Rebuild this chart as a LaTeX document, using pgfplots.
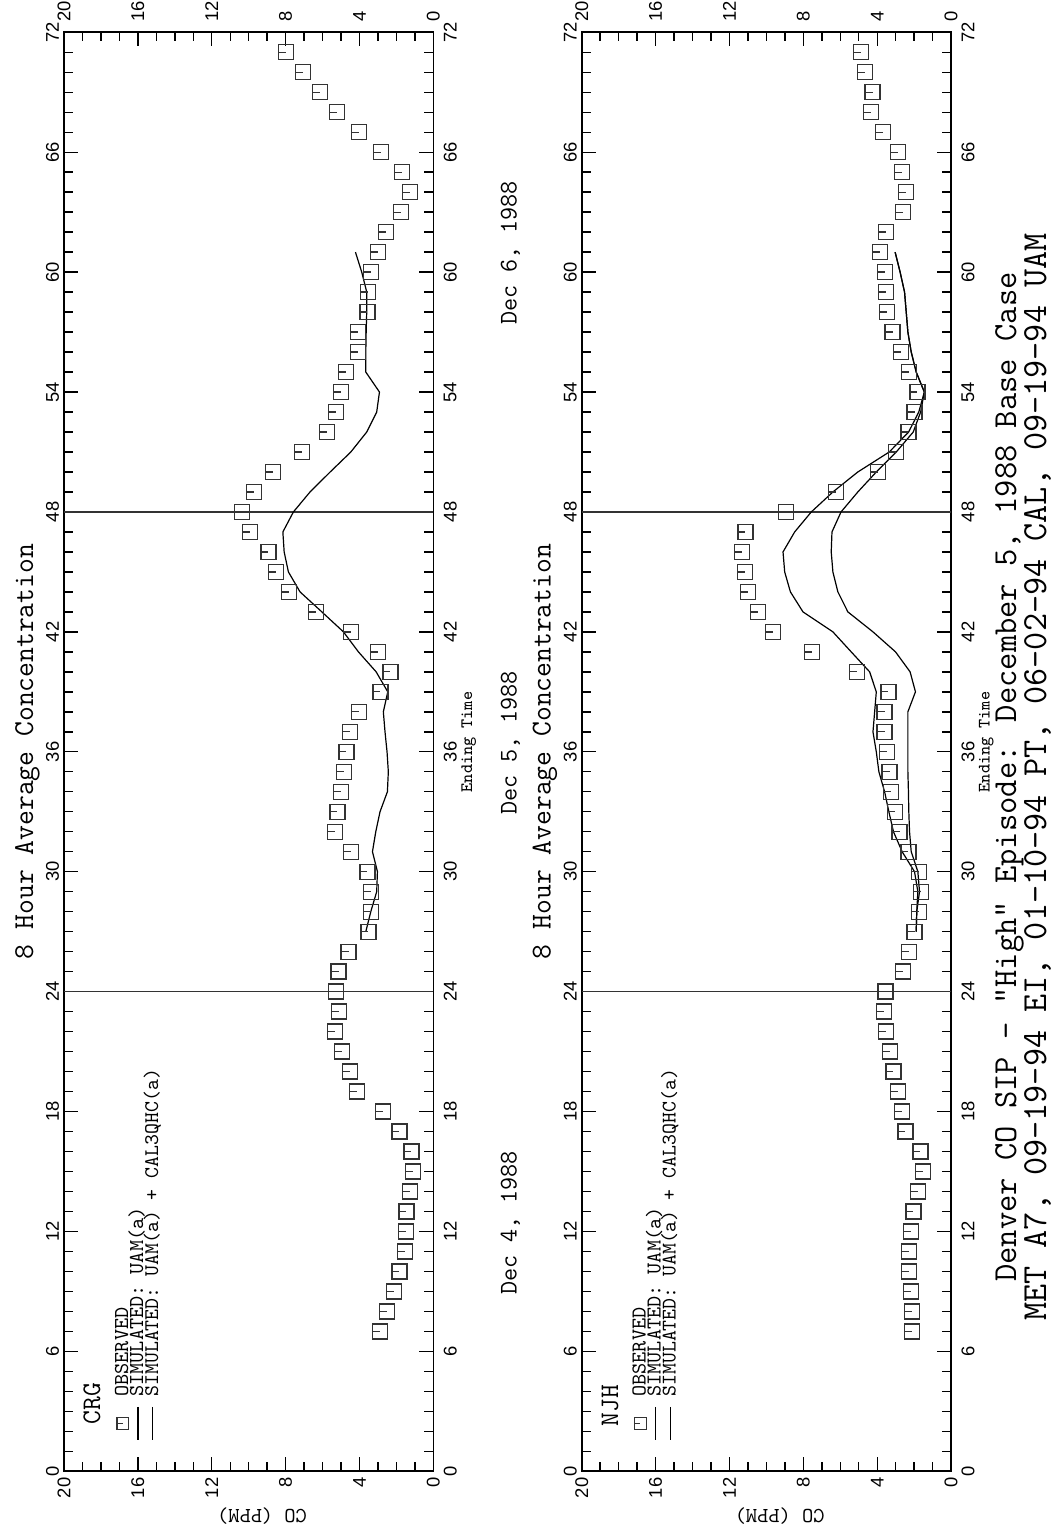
\documentclass[border=0pt]{standalone}
\usepackage{fontspec}
\newfontfamily\tickfont{Liberation Sans}
\usepackage{pgfplots}
\usepackage{pgfplotstable}
\pgfplotsset{compat=1.18}

\pgfdeclareplotmark{sqt}{%
  \pgfpathrectangle{\pgfpoint{-\pgfplotmarksize}{-\pgfplotmarksize}}{\pgfpoint{2\pgfplotmarksize}{2\pgfplotmarksize}}%
  \pgfpathmoveto{\pgfpoint{-\pgfplotmarksize}{0pt}}%
  \pgfpathlineto{\pgfpointorigin}%
  \pgfusepathqstroke}

\pgfplotstableread{
t co
7 2.89
8 2.51
9 2.13
10 1.84
11 1.53
12 1.50
13 1.46
14 1.28
15 1.10
16 1.19
17 1.84
18 2.74
19 4.15
20 4.51
21 4.94
22 5.34
23 5.11
24 5.27
25 5.13
26 4.59
27 3.52
28 3.39
29 3.36
30 3.57
31 4.47
32 5.32
33 5.20
34 5.01
35 4.83
36 4.71
37 4.53
38 4.02
39 2.87
40 2.33
41 2.99
42 4.47
43 6.37
44 7.81
45 8.53
46 8.93
47 9.92
48 10.36
49 9.72
50 8.68
51 7.13
52 5.77
53 5.27
54 5.01
55 4.73
56 4.08
57 4.08
58 3.57
59 3.54
60 3.39
61 2.99
62 2.58
63 1.75
64 1.28
65 1.71
66 2.85
67 4.02
68 5.23
69 6.13
70 7.05
71 7.99
}\obsCRG

\pgfplotstableread{
t co
27 3.66
28 3.39
29 3.07
30 3.03
31 3.30
32 3.12
33 2.89
34 2.49
35 2.44
36 2.51
37 2.62
38 2.71
39 2.47
40 3.10
41 4.06
42 4.87
43 6.04
44 7.22
45 7.85
46 8.08
47 8.15
48 7.58
49 6.68
50 5.59
51 4.47
52 3.61
53 3.07
54 2.92
55 3.66
56 3.66
57 3.64
58 3.61
59 3.61
60 3.88
61 4.22
}\simCRG

\pgfplotstableread{
t co
7 2.13
8 2.13
9 2.18
10 2.27
11 2.29
12 2.18
13 2.04
14 1.78
15 1.53
16 1.66
17 2.47
18 2.67
19 2.88
20 3.12
21 3.32
22 3.51
23 3.62
24 3.55
25 2.61
26 2.27
27 1.98
28 1.75
29 1.64
30 1.75
31 2.31
32 2.79
33 3.03
34 3.24
35 3.33
36 3.48
37 3.60
38 3.60
39 3.39
40 5.08
41 7.53
42 9.64
43 10.45
44 10.99
45 11.17
46 11.32
47 11.14
48 8.95
49 6.23
50 3.96
51 2.97
52 2.31
53 1.98
54 1.82
55 2.27
56 2.70
57 3.17
58 3.46
59 3.51
60 3.57
61 3.84
62 3.51
63 2.61
64 2.43
65 2.67
66 2.88
67 3.68
68 4.32
69 4.25
70 4.65
71 4.86
}\obsNJH

\pgfplotstableread{
t co
27 1.89
28 1.86
29 1.80
30 1.98
31 2.65
32 3.12
33 3.37
34 3.60
35 3.91
36 4.05
37 4.23
38 4.14
39 4.05
40 4.41
41 5.41
42 6.40
43 8.02
44 8.70
45 9.01
46 9.10
47 8.47
48 7.57
49 6.40
50 5.05
51 3.35
52 2.30
53 1.75
54 1.45
55 1.89
56 2.16
57 2.34
58 2.43
59 2.52
60 2.76
61 3.03
}\simNJHa

\pgfplotstableread{
t co
27 1.89
28 1.86
29 1.71
30 1.80
31 2.16
32 2.25
33 2.29
34 2.31
35 2.34
36 2.34
37 2.34
38 2.34
39 1.93
40 2.22
41 3.01
42 4.23
43 5.59
44 6.13
45 6.40
46 6.49
47 6.45
48 5.96
49 5.05
50 4.05
51 2.97
52 2.05
53 1.65
54 1.45
55 1.89
56 2.16
57 2.34
58 2.43
59 2.52
60 2.76
61 3.03
}\simNJHb

\pgfplotsset{
  panel/.style={
    scale only axis, width=184.7pt, height=719.5pt, anchor=south west,
    xmin=0, xmax=20, x dir=reverse, ymin=0, ymax=72,
    xtick={0,4,...,20}, ytick={0,6,...,72},
    minor xtick={1,2,3,5,6,7,9,10,11,13,14,15,17,18,19},
    minor ytick={1,2,3,4,5,7,8,9,10,11,13,14,15,16,17,19,20,21,22,23,25,26,27,28,29,31,32,33,34,35,37,38,39,40,41,43,44,45,46,47,49,50,51,52,53,55,56,57,58,59,61,62,63,64,65,67,68,69,70,71},
    tick align=inside, xtick pos=both, ytick pos=both,
    major tick length=7pt, minor tick length=4.5pt,
    axis line style={line width=0.8pt},
    every tick/.style={black, line width=0.7pt},
    tick label style={font=\tickfont\fontsize{9.2}{9.2}\selectfont},
    /pgf/number format/assume math mode=true,
    clip=false,
  },
  mainpanel/.style={
    panel,
    xticklabel pos=lower, yticklabel pos=left,
    xticklabel style={rotate=90, anchor=east, inner sep=3pt},
    yticklabel style={rotate=90, anchor=south, inner sep=2.3pt},
  },
  overpanel/.style={
    panel,
    xticklabel pos=upper, yticklabel pos=right,
    xticklabel style={rotate=90, anchor=west, inner sep=5.3pt},
    yticklabel style={rotate=90, anchor=north, inner sep=5pt},
    axis line style={draw=none},
    major tick length=0pt, minor tick length=0pt,
    every tick/.style={draw=none},
  },
  obs/.style={only marks, mark=sqt, mark size=3.75pt, black!80, line width=0.65pt},
  sim/.style={no marks, black, line width=0.6pt},
}

\begin{document}
\begin{tikzpicture}
\path[use as bounding box] (0pt,0pt) rectangle (527pt,764.5pt);

% ---------- panel 1: CRG ----------
\begin{axis}[mainpanel, at={(32pt,28.85pt)}]
  \addplot[black!80, line width=0.6pt] coordinates {(0,24) (20,24)};
  \addplot[black!80, line width=0.6pt] coordinates {(0,48) (20,48)};
  \addplot[obs] table[x=co, y=t] {\obsCRG};
  \addplot[sim] table[x=co, y=t] {\simCRG};
  % legend glyphs
  \addplot[only marks, mark=sqt, mark size=2.9pt, black!80, line width=0.6pt] coordinates {(16.82,2.4)};
  \addplot[sim] coordinates {(15.99,3.22) (15.99,1.57)};
  \addplot[sim] coordinates {(15.19,3.22) (15.19,1.57)};
\end{axis}
\begin{axis}[overpanel, at={(32pt,28.85pt)}]
  \addplot[draw=none] coordinates {(0,0)};
\end{axis}

% ---------- panel 2: NJH ----------
\begin{axis}[mainpanel, at={(290.85pt,28.85pt)}]
  \addplot[black!80, line width=0.6pt] coordinates {(0,24) (20,24)};
  \addplot[black!80, line width=0.6pt] coordinates {(0,48) (20,48)};
  \addplot[obs] table[x=co, y=t] {\obsNJH};
  \addplot[sim] table[x=co, y=t] {\simNJHa};
  \addplot[sim] table[x=co, y=t] {\simNJHb};
  \addplot[only marks, mark=sqt, mark size=2.9pt, black!80, line width=0.6pt] coordinates {(16.82,2.4)};
  \addplot[sim] coordinates {(15.99,3.22) (15.99,1.57)};
  \addplot[sim] coordinates {(15.19,3.22) (15.19,1.57)};
\end{axis}
\begin{axis}[overpanel, at={(290.85pt,28.85pt)}]
  \addplot[draw=none] coordinates {(0,0)};
\end{axis}

% ---------- texts ----------
\tikzset{rt/.style={rotate=90, inner sep=0pt}}
\foreach \dx in {0pt,258.85pt}{
  \begin{scope}[xshift=\dx]
    \node[rt, anchor=base, font=\ttfamily\fontsize{14.4}{14.4}\selectfont] at (16.5pt,388.75pt) {8 Hour Average Concentration};
    \node[rt, anchor=base west, font=\ttfamily\fontsize{10.6}{10.6}\selectfont] at (64pt,66pt) {OBSERVED};
    \node[rt, anchor=base west, font=\ttfamily\fontsize{10.6}{10.6}\selectfont] at (71.5pt,66pt) {SIMULATED: UAM(a)};
    \node[rt, anchor=base west, font=\ttfamily\fontsize{10.4}{10.4}\selectfont] at (79pt,66pt) {SIMULATED: UAM(a) + CAL3QHC(a)};
    \node[rotate=180, inner sep=0pt, font=\ttfamily\fontsize{10.7}{10.7}\selectfont] at (131pt,6.5pt) {CO (PPM)};
    \node[rt, anchor=base, font=\ttfamily\fontsize{8.7}{8.7}\selectfont] at (236pt,393.5pt) {Ending Time};
  \end{scope}
}
\node[rt, anchor=base west, font=\ttfamily\fontsize{13.4}{13.4}\selectfont] at (50pt,52pt) {CRG};
\node[rt, anchor=base west, font=\ttfamily\fontsize{13.4}{13.4}\selectfont] at (309pt,51pt) {NJH};
\node[rt, anchor=base, font=\ttfamily\fontsize{12.7}{12.7}\selectfont] at (258.35pt,153pt) {Dec 4, 1988};
\node[rt, anchor=base, font=\ttfamily\fontsize{12.7}{12.7}\selectfont] at (258.35pt,393pt) {Dec 5, 1988};
\node[rt, anchor=base, font=\ttfamily\fontsize{12.7}{12.7}\selectfont] at (258.35pt,638pt) {Dec 6, 1988};
\node[rt, anchor=base, font=\ttfamily\fontsize{16.8}{16.8}\selectfont] at (508pt,376pt) {Denver CO SIP – "High" Episode: December 5, 1988 Base Case};
\node[rt, anchor=base, font=\ttfamily\fontsize{17.6}{17.6}\selectfont] at (523pt,376pt) {MET A7, 09–19–94 EI, 01–10–94 PT, 06–02–94 CAL, 09–19–94 UAM};
\end{tikzpicture}
\end{document}
